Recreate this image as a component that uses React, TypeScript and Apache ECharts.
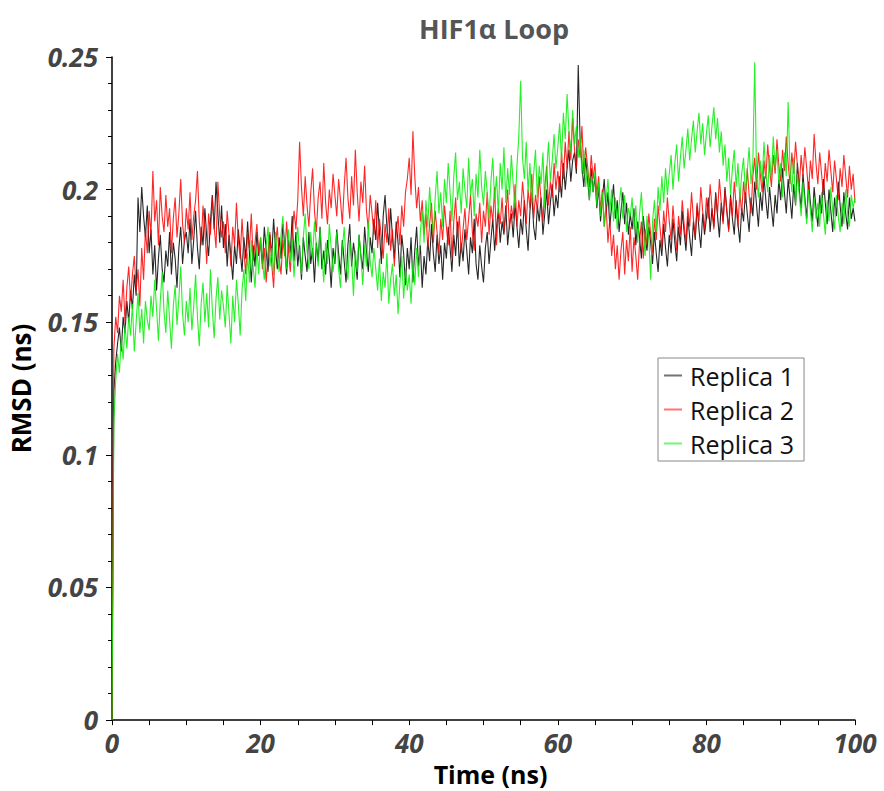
import React, { useEffect, useRef } from "react";
import * as echarts from "echarts";

const STEP_NS = 0.25;
const SERIES_NAMES = ["Replica 1", "Replica 2", "Replica 3"];
const SERIES_COLORS = ["#000000", "#ff0000", "#00ee00"];
const X_TICKS = [0, 20, 40, 60, 80, 100];
const Y_TICKS = [0, 0.05, 0.1, 0.15, 0.2, 0.25];

// RMSD values sampled every 0.25 ns, 0 .. 100 ns
const replica1 = [
  0, 0.124, 0.135, 0.142, 0.148, 0.139, 0.152, 0.146, 0.158, 0.150, 0.162, 0.155, 0.168, 0.160, 0.197, 0.184, 0.201, 0.190, 0.182, 0.194,
  0.176, 0.185, 0.168, 0.179, 0.162, 0.174, 0.183, 0.170, 0.165, 0.177, 0.171, 0.184, 0.168, 0.180, 0.174, 0.163, 0.178, 0.186, 0.172, 0.181,
  0.184, 0.176, 0.189, 0.172, 0.181, 0.192, 0.178, 0.170, 0.186, 0.179, 0.193, 0.182, 0.175, 0.188, 0.198, 0.185, 0.203, 0.191, 0.180, 0.194,
  0.178, 0.187, 0.171, 0.183, 0.175, 0.166, 0.179, 0.172, 0.185, 0.177, 0.169, 0.182, 0.174, 0.188, 0.176, 0.165, 0.179, 0.171, 0.184, 0.175,
  0.180, 0.172, 0.186, 0.177, 0.169, 0.183, 0.175, 0.189, 0.178, 0.170, 0.182, 0.174, 0.187, 0.179, 0.168, 0.181, 0.176, 0.190, 0.173, 0.184,
  0.171, 0.179, 0.166, 0.182, 0.175, 0.169, 0.184, 0.172, 0.178, 0.165, 0.180, 0.173, 0.186, 0.170, 0.177, 0.168, 0.181, 0.174, 0.163, 0.178,
  0.172, 0.185, 0.176, 0.168, 0.181, 0.173, 0.165, 0.179, 0.187, 0.171, 0.180, 0.174, 0.166, 0.183, 0.175, 0.170, 0.186, 0.177, 0.169, 0.182,
  0.176, 0.189, 0.181, 0.195, 0.184, 0.172, 0.190, 0.198, 0.186, 0.179, 0.193, 0.182, 0.174, 0.188, 0.180, 0.167, 0.183, 0.176, 0.164, 0.178,
  0.170, 0.182, 0.165, 0.177, 0.186, 0.171, 0.179, 0.163, 0.175, 0.168, 0.181, 0.173, 0.187, 0.176, 0.169, 0.183, 0.172, 0.179, 0.166, 0.180,
  0.174, 0.186, 0.178, 0.169, 0.183, 0.175, 0.188, 0.171, 0.180, 0.173, 0.185, 0.177, 0.168, 0.182, 0.176, 0.189, 0.172, 0.166, 0.179, 0.171,
  0.165, 0.178, 0.184, 0.172, 0.181, 0.189, 0.177, 0.186, 0.192, 0.180, 0.188, 0.183, 0.194, 0.179, 0.187, 0.191, 0.182, 0.195, 0.186, 0.178,
  0.189, 0.183, 0.196, 0.185, 0.177, 0.192, 0.199, 0.186, 0.181, 0.194, 0.188, 0.197, 0.183, 0.191, 0.200, 0.187, 0.195, 0.202, 0.190, 0.198,
  0.193, 0.205, 0.197, 0.210, 0.200, 0.208, 0.215, 0.203, 0.211, 0.214, 0.206, 0.247, 0.219, 0.209, 0.201, 0.212, 0.204, 0.196, 0.208, 0.199,
  0.205, 0.193, 0.201, 0.188, 0.197, 0.204, 0.191, 0.199, 0.186, 0.194, 0.202, 0.189, 0.196, 0.184, 0.192, 0.199, 0.187, 0.195, 0.183, 0.191,
  0.185, 0.193, 0.179, 0.188, 0.182, 0.174, 0.190, 0.183, 0.177, 0.186, 0.180, 0.172, 0.184, 0.176, 0.169, 0.181, 0.175, 0.187, 0.178, 0.171,
  0.183, 0.176, 0.189, 0.180, 0.173, 0.186, 0.179, 0.192, 0.184, 0.177, 0.190, 0.182, 0.175, 0.188, 0.181, 0.194, 0.185, 0.178, 0.191, 0.183,
  0.189, 0.197, 0.184, 0.193, 0.186, 0.199, 0.190, 0.182, 0.195, 0.188, 0.201, 0.192, 0.185, 0.198, 0.189, 0.183, 0.196, 0.187, 0.180, 0.193,
  0.188, 0.199, 0.191, 0.184, 0.197, 0.190, 0.203, 0.194, 0.186, 0.199, 0.192, 0.205, 0.196, 0.189, 0.201, 0.193, 0.186, 0.198, 0.191, 0.204,
  0.196, 0.208, 0.199, 0.191, 0.204, 0.197, 0.189, 0.202, 0.194, 0.210, 0.200, 0.193, 0.206, 0.197, 0.189, 0.203, 0.195, 0.188, 0.201, 0.193,
  0.186, 0.198, 0.191, 0.204, 0.195, 0.187, 0.200, 0.192, 0.184, 0.197, 0.190, 0.203, 0.194, 0.186, 0.199, 0.191, 0.185, 0.197, 0.189, 0.193,
  0.188,
];

const replica2 = [
  0, 0.140, 0.152, 0.146, 0.160, 0.154, 0.166, 0.150, 0.163, 0.171, 0.158, 0.168, 0.175, 0.162, 0.170, 0.156, 0.178, 0.166, 0.185, 0.176,
  0.192, 0.183, 0.207, 0.188, 0.196, 0.179, 0.201, 0.190, 0.184, 0.198, 0.186, 0.193, 0.176, 0.189, 0.197, 0.182, 0.191, 0.204, 0.187, 0.180,
  0.193, 0.185, 0.199, 0.181, 0.190, 0.196, 0.207, 0.188, 0.179, 0.194, 0.185, 0.172, 0.191, 0.183, 0.197, 0.186, 0.178, 0.203, 0.190, 0.182,
  0.188, 0.176, 0.192, 0.183, 0.171, 0.186, 0.179, 0.195, 0.181, 0.174, 0.189, 0.177, 0.168, 0.184, 0.178, 0.191, 0.173, 0.180, 0.187, 0.176,
  0.182, 0.170, 0.178, 0.165, 0.176, 0.184, 0.172, 0.163, 0.179, 0.186, 0.174, 0.168, 0.181, 0.175, 0.188, 0.177, 0.169, 0.183, 0.192, 0.185,
  0.196, 0.218, 0.201, 0.190, 0.205, 0.194, 0.186, 0.199, 0.208, 0.192, 0.184, 0.197, 0.203, 0.189, 0.210, 0.195, 0.187, 0.200, 0.193, 0.206,
  0.198, 0.190, 0.204, 0.196, 0.187, 0.201, 0.212, 0.197, 0.189, 0.205, 0.194, 0.215, 0.199, 0.188, 0.203, 0.195, 0.209, 0.192, 0.185, 0.198,
  0.191, 0.183, 0.196, 0.178, 0.189, 0.182, 0.174, 0.187, 0.180, 0.193, 0.177, 0.185, 0.171, 0.184, 0.190, 0.179, 0.194, 0.186, 0.199, 0.204,
  0.212, 0.198, 0.222, 0.205, 0.193, 0.201, 0.188, 0.196, 0.183, 0.191, 0.178, 0.187, 0.195, 0.180, 0.192, 0.184, 0.176, 0.189, 0.181, 0.194,
  0.186, 0.179, 0.192, 0.174, 0.188, 0.197, 0.182, 0.190, 0.176, 0.185, 0.193, 0.181, 0.189, 0.198, 0.184, 0.177, 0.191, 0.186, 0.195, 0.180,
  0.192, 0.186, 0.199, 0.183, 0.194, 0.188, 0.201, 0.179, 0.193, 0.187, 0.197, 0.184, 0.191, 0.200, 0.185, 0.194, 0.189, 0.202, 0.186, 0.196,
  0.190, 0.203, 0.195, 0.187, 0.200, 0.193, 0.206, 0.189, 0.198, 0.192, 0.205, 0.196, 0.188, 0.201, 0.209, 0.194, 0.203, 0.197, 0.210, 0.200,
  0.207, 0.199, 0.214, 0.204, 0.218, 0.208, 0.222, 0.211, 0.227, 0.215, 0.208, 0.219, 0.212, 0.224, 0.206, 0.216, 0.209, 0.201, 0.213, 0.204,
  0.210, 0.198, 0.205, 0.192, 0.200, 0.186, 0.194, 0.180, 0.189, 0.175, 0.183, 0.170, 0.179, 0.166, 0.177, 0.184, 0.168, 0.181, 0.173, 0.186,
  0.169, 0.182, 0.175, 0.166, 0.180, 0.188, 0.174, 0.185, 0.179, 0.191, 0.183, 0.176, 0.189, 0.181, 0.194, 0.186, 0.178, 0.192, 0.184, 0.197,
  0.188, 0.181, 0.194, 0.185, 0.177, 0.190, 0.183, 0.196, 0.187, 0.180, 0.193, 0.186, 0.199, 0.189, 0.182, 0.195, 0.188, 0.201, 0.192, 0.185,
  0.197, 0.189, 0.202, 0.193, 0.185, 0.198, 0.191, 0.204, 0.195, 0.187, 0.200, 0.192, 0.184, 0.197, 0.190, 0.203, 0.194, 0.186, 0.199, 0.191,
  0.203, 0.195, 0.208, 0.198, 0.191, 0.205, 0.212, 0.200, 0.214, 0.206, 0.199, 0.211, 0.204, 0.217, 0.208, 0.201, 0.213, 0.206, 0.219, 0.209,
  0.203, 0.215, 0.207, 0.220, 0.210, 0.202, 0.214, 0.206, 0.218, 0.209, 0.201, 0.213, 0.205, 0.216, 0.208, 0.199, 0.211, 0.204, 0.221, 0.210,
  0.202, 0.214, 0.206, 0.198, 0.210, 0.203, 0.215, 0.207, 0.199, 0.211, 0.204, 0.196, 0.208, 0.201, 0.213, 0.205, 0.197, 0.209, 0.200, 0.206,
  0.195,
];

const replica3 = [
  0, 0.112, 0.128, 0.138, 0.131, 0.144, 0.136, 0.149, 0.140, 0.152, 0.145, 0.157, 0.139, 0.150, 0.161, 0.146, 0.155, 0.142, 0.158, 0.151,
  0.147, 0.160, 0.152, 0.166, 0.155, 0.143, 0.158, 0.169, 0.154, 0.146, 0.162, 0.151, 0.140, 0.156, 0.164, 0.149, 0.159, 0.171, 0.153, 0.145,
  0.158, 0.150, 0.163, 0.147, 0.156, 0.168, 0.152, 0.141, 0.157, 0.165, 0.150, 0.161, 0.148, 0.170, 0.155, 0.144, 0.159, 0.167, 0.151, 0.162,
  0.156, 0.148, 0.164, 0.153, 0.142, 0.160, 0.150, 0.166, 0.157, 0.145, 0.162, 0.170, 0.158, 0.176, 0.165, 0.181, 0.171, 0.163, 0.178, 0.168,
  0.182, 0.173, 0.166, 0.179, 0.186, 0.171, 0.178, 0.168, 0.184, 0.175, 0.169, 0.183, 0.190, 0.176, 0.170, 0.185, 0.173, 0.181, 0.167, 0.179,
  0.186, 0.175, 0.168, 0.182, 0.191, 0.177, 0.170, 0.184, 0.174, 0.188, 0.179, 0.171, 0.185, 0.176, 0.165, 0.180, 0.172, 0.187, 0.178, 0.169,
  0.176, 0.184, 0.170, 0.163, 0.178, 0.186, 0.172, 0.166, 0.181, 0.174, 0.160, 0.177, 0.169, 0.183, 0.175, 0.164, 0.179, 0.171, 0.188, 0.173,
  0.167, 0.178, 0.170, 0.162, 0.174, 0.158, 0.169, 0.163, 0.176, 0.157, 0.166, 0.172, 0.160, 0.168, 0.153, 0.165, 0.175, 0.159, 0.170, 0.162,
  0.168, 0.157, 0.173, 0.164, 0.178, 0.167, 0.184, 0.192, 0.180, 0.196, 0.186, 0.201, 0.190, 0.183, 0.197, 0.207, 0.191, 0.199, 0.186, 0.204,
  0.195, 0.210, 0.199, 0.188, 0.205, 0.214, 0.196, 0.203, 0.191, 0.208, 0.200, 0.193, 0.212, 0.198, 0.204, 0.190, 0.206, 0.197, 0.215, 0.201,
  0.194, 0.207, 0.199, 0.189, 0.203, 0.212, 0.196, 0.205, 0.191, 0.210, 0.200, 0.216, 0.195, 0.208, 0.198, 0.213, 0.202, 0.193, 0.209, 0.220,
  0.241, 0.212, 0.204, 0.218, 0.199, 0.210, 0.195, 0.206, 0.215, 0.197, 0.209, 0.202, 0.214, 0.193, 0.207, 0.218, 0.203, 0.211, 0.221, 0.208,
  0.216, 0.225, 0.211, 0.229, 0.219, 0.236, 0.222, 0.214, 0.230, 0.217, 0.224, 0.212, 0.220, 0.206, 0.215, 0.201, 0.209, 0.196, 0.205, 0.199,
  0.207, 0.194, 0.203, 0.190, 0.199, 0.186, 0.196, 0.204, 0.192, 0.200, 0.188, 0.197, 0.185, 0.194, 0.201, 0.189, 0.198, 0.184, 0.193, 0.190,
  0.197, 0.185, 0.194, 0.180, 0.191, 0.199, 0.186, 0.175, 0.190, 0.182, 0.166, 0.188, 0.196, 0.184, 0.201, 0.192, 0.205, 0.195, 0.208, 0.198,
  0.206, 0.213, 0.200, 0.210, 0.217, 0.203, 0.212, 0.220, 0.208, 0.215, 0.223, 0.211, 0.219, 0.226, 0.214, 0.222, 0.229, 0.217, 0.225, 0.213,
  0.221, 0.228, 0.216, 0.224, 0.231, 0.219, 0.227, 0.214, 0.222, 0.209, 0.217, 0.203, 0.212, 0.198, 0.208, 0.215, 0.201, 0.210, 0.196, 0.206,
  0.212, 0.199, 0.207, 0.216, 0.202, 0.210, 0.248, 0.205, 0.197, 0.211, 0.203, 0.218, 0.206, 0.199, 0.213, 0.204, 0.220, 0.208, 0.215, 0.202,
  0.210, 0.197, 0.214, 0.205, 0.233, 0.208, 0.199, 0.212, 0.194, 0.206, 0.198, 0.190, 0.203, 0.195, 0.187, 0.200, 0.192, 0.184, 0.197, 0.189,
  0.195, 0.186, 0.199, 0.191, 0.183, 0.196, 0.188, 0.201, 0.192, 0.185, 0.198, 0.190, 0.184, 0.195, 0.187, 0.200, 0.191, 0.186, 0.198, 0.193,
  0.197,
];

const ALL_SERIES = [replica1, replica2, replica3];

export default function App() {
  const ref = useRef<HTMLDivElement>(null);

  useEffect(() => {
    document.body.style.margin = "0";
    if (!ref.current) return;
    const chart = echarts.init(ref.current, null, { renderer: "svg" });
    const font = "'Open Sans', 'DejaVu Sans', sans-serif";
    const tickLabelStyle = {
      fontFamily: font,
      fontStyle: "italic" as const,
      fontWeight: "bold" as const,
      fontSize: 26,
      color: "#444444",
    };
    chart.setOption({
      animation: false,
      backgroundColor: "#ffffff",
      title: {
        text: "HIF1α Loop",
        left: 414,
        top: 10,
        textStyle: {
          fontFamily: font,
          fontWeight: "bold",
          fontSize: 27,
          color: "#555555",
        },
      },
      legend: {
        left: 658,
        top: 358,
        orient: "vertical",
        backgroundColor: "#ffffff",
        borderColor: "#888888",
        borderWidth: 1,
        borderRadius: 0,
        padding: [5, 10, 5, 6],
        itemGap: 9,
        itemWidth: 18,
        itemHeight: 2,
        icon: "rect",
        data: SERIES_NAMES,
        itemStyle: { opacity: 0.55 },
        textStyle: {
          fontFamily: font,
          fontSize: 25,
          lineHeight: 25,
          color: "#111111",
          padding: [0, 0, 0, 3],
        },
      },
      grid: { left: 111, right: 29, top: 57, bottom: 63 },
      xAxis: {
        type: "value",
        min: X_TICKS[0],
        max: X_TICKS[X_TICKS.length - 1],
        interval: 20,
        name: "Time (ns)",
        nameLocation: "middle",
        nameGap: 37,
        nameTextStyle: {
          fontFamily: font,
          fontWeight: "bold",
          fontSize: 25,
          color: "#000000",
          padding: [0, 0, 0, 14],
        },
        axisLine: { show: true, lineStyle: { color: "#000000", width: 1.5 } },
        axisTick: { show: true, length: 5, lineStyle: { color: "#000000" } },
        minorTick: { show: true, splitNumber: 4, length: 5, lineStyle: { color: "#000000" } },
        splitLine: { show: false },
        axisLabel: { ...tickLabelStyle, margin: 10 },
      },
      yAxis: {
        type: "value",
        min: Y_TICKS[0],
        max: Y_TICKS[Y_TICKS.length - 1],
        interval: 0.05,
        name: "RMSD (ns)",
        nameLocation: "middle",
        nameGap: 78,
        nameTextStyle: {
          fontFamily: font,
          fontWeight: "bold",
          fontSize: 26,
          color: "#000000",
        },
        axisLine: { show: true, lineStyle: { color: "#000000", width: 1.5 } },
        axisTick: { show: true, length: 6, lineStyle: { color: "#000000" } },
        minorTick: { show: true, splitNumber: 5, length: 4, lineStyle: { color: "#000000" } },
        splitLine: { show: false },
        axisLabel: { ...tickLabelStyle, margin: 14 },
      },
      series: ALL_SERIES.map((vals, i) => ({
        name: SERIES_NAMES[i],
        type: "line",
        symbol: "none",
        showSymbol: false,
        color: SERIES_COLORS[i],
        lineStyle: { width: 1.1, color: SERIES_COLORS[i], opacity: 0.85 },
        data: vals.map((v, k) => [k * STEP_NS, v]),
      })),
    });
    return () => chart.dispose();
  }, []);

  return (
    <div
      ref={ref}
      style={{ position: "absolute", left: 0, top: 0, width: 884, height: 791 }}
    />
  );
}
